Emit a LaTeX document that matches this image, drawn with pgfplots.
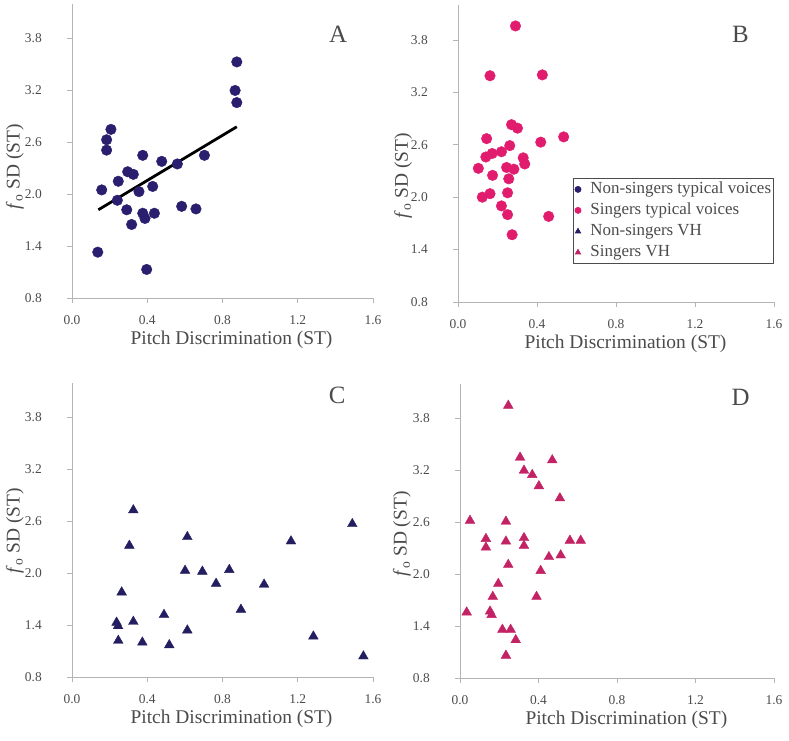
\documentclass[border=0pt]{standalone}
\usepackage{fontspec}
\setmainfont{Liberation Serif}
\usepackage{pgfplots}
\pgfplotsset{compat=1.18}
\definecolor{navyc}{RGB}{42,30,110}
\definecolor{navyt}{RGB}{35,30,95}
\definecolor{pinkc}{RGB}{225,28,110}
\definecolor{pinkt}{RGB}{195,35,100}
\definecolor{axgray}{RGB}{180,180,180}
\definecolor{txtgray}{RGB}{75,75,75}
\tikzset{letter/.style={font=\fontsize{25}{27}\selectfont, text=txtgray}}
\pgfplotsset{
  panel/.style 2 args={
    scale only axis,
    anchor=south west,
    xmin=0, xmax=1.6, ymin=0.8, ymax=4.2,
    axis lines=left,
    axis line style={draw=axgray, line width=0.8bp, -},
    xtick={0,0.4,0.8,1.2,1.6},
    ytick={0.8,1.4,2.0,2.6,3.2,3.8},
    tick align=outside,
    major tick length=5bp,
    tick style={draw=axgray, line width=0.8bp},
    /pgf/number format/fixed,
    /pgf/number format/fixed zerofill,
    /pgf/number format/precision=1,
    /pgf/number format/assume math mode=true,
    ticklabel style={font=\fontsize{13.5}{15}\selectfont, text=txtgray},
    xticklabel style={anchor=north, inner sep=0pt, yshift=-12bp},
    yticklabel style={anchor=east, inner sep=0pt, xshift=-25bp},
    xlabel={Pitch Discrimination (ST)},
    ylabel={\textit{f}\textsubscript{o} SD (ST)},
    every axis x label/.style={at={(axis description cs:0.53,0)}, anchor=center, yshift=-42bp,
      font=\fontsize{19.5}{22}\selectfont, text=txtgray},
    every axis y label/.style={at={(axis description cs:#1,#2)}, anchor=center, rotate=90,
      font=\fontsize{19.5}{22}\selectfont, text=txtgray},
    clip=false,
  },
  circ/.style={only marks, mark=*, mark size=5.3bp},
  tri/.style={only marks, mark=triangle*, mark size=5.6bp},
}
\begin{document}
\begin{tikzpicture}
\path[use as bounding box] (0,0) rectangle (789bp,741bp);

% ---------- A ----------
\begin{axis}[panel={-0.19}{0.447}, at={(72bp,443bp)}, width=301bp, height=294bp]
\addplot[circ, color=navyc] coordinates {
(0.876,3.53) (0.867,3.20) (0.876,3.06) (0.207,2.75) (0.184,2.63) (0.184,2.51)
(0.376,2.45) (0.477,2.38) (0.560,2.35) (0.704,2.45) (0.296,2.26) (0.326,2.23)
(0.246,2.15) (0.158,2.05) (0.356,2.03) (0.429,2.09) (0.241,1.93) (0.291,1.82)
(0.583,1.86) (0.659,1.83) (0.376,1.78) (0.388,1.72) (0.438,1.78) (0.317,1.65)
(0.137,1.33) (0.397,1.13)
};
\addplot[black, line width=2.8bp, no marks] coordinates {(0.14,1.82) (0.876,2.78)};
\node[letter] at (axis cs:1.415,3.845) {A};
\end{axis}

% ---------- B ----------
\begin{axis}[panel={-0.174}{0.425}, at={(458bp,439bp)}, width=316bp, height=297bp,
  legend style={at={(rel axis cs:1,0.4175)}, anchor=north east, draw=black!70, line width=0.8bp,
    font=\fontsize{17}{19}\selectfont, text=txtgray, inner xsep=1bp, inner ysep=1.5bp,
    row sep=2bp, cells={anchor=west},
    nodes={inner sep=1.5bp, text height=12bp, text depth=4bp}},
  legend image code/.code={\draw[#1, mark size=3bp] plot coordinates {(0bp,0bp)};
     \path[draw=none, fill=none] (-3.5bp,-3bp) rectangle (11bp,3bp);}]
\addlegendimage{only marks, mark=*, color=navyc}
\addlegendentry{Non-singers typical voices}
\addplot[circ, color=pinkc] coordinates {
(0.291,3.96) (0.162,3.39) (0.427,3.40) (0.271,2.83) (0.301,2.79) (0.535,2.69)
(0.145,2.67) (0.419,2.63) (0.262,2.59) (0.220,2.52) (0.173,2.50) (0.141,2.46)
(0.330,2.45) (0.338,2.38) (0.103,2.33) (0.246,2.34) (0.283,2.32) (0.257,2.21)
(0.175,2.25) (0.123,2.00) (0.162,2.04) (0.251,2.05) (0.220,1.90) (0.251,1.80)
(0.459,1.78) (0.274,1.57)
};
\addlegendentry{Singers typical voices}
\addlegendimage{only marks, mark=triangle*, color=navyt}
\addlegendentry{Non-singers VH}
\addlegendimage{only marks, mark=triangle*, color=pinkt}
\addlegendentry{Singers VH}
\node[letter] at (axis cs:1.43,3.86) {B};
\end{axis}

% ---------- C ----------
\begin{axis}[panel={-0.19}{0.497}, at={(72bp,64bp)}, width=301bp, height=294bp]
\addplot[tri, color=navyt] coordinates {
(0.326,2.73) (0.305,2.32) (0.613,2.42) (1.164,2.37) (1.490,2.57) (0.601,2.03)
(0.693,2.02) (0.836,2.04) (0.766,1.88) (1.021,1.87) (0.264,1.78) (0.898,1.58)
(0.489,1.52) (0.326,1.44) (0.237,1.43) (0.245,1.39) (0.613,1.34) (0.246,1.22)
(0.374,1.20) (0.517,1.17) (1.283,1.27) (1.549,1.04)
};
\node[letter] at (axis cs:1.41,4.06) {C};
\end{axis}

% ---------- D ----------
\begin{axis}[panel={-0.185}{0.49}, at={(460bp,63bp)}, width=314bp, height=294bp]
\addplot[tri, color=pinkt] coordinates {
(0.246,3.95) (0.306,3.35) (0.470,3.32) (0.326,3.20) (0.368,3.15) (0.402,3.02)
(0.509,2.88) (0.051,2.62) (0.234,2.61) (0.132,2.41) (0.132,2.31) (0.234,2.38)
(0.326,2.42) (0.326,2.33) (0.560,2.39) (0.615,2.39) (0.453,2.20) (0.513,2.22)
(0.246,2.11) (0.411,2.04) (0.195,1.89) (0.167,1.74) (0.390,1.74) (0.034,1.56)
(0.153,1.57) (0.161,1.53) (0.216,1.36) (0.258,1.36) (0.284,1.24) (0.234,1.06)
};
\node[letter] at (axis cs:1.43,4.05) {D};
\end{axis}
\end{tikzpicture}
\end{document}
